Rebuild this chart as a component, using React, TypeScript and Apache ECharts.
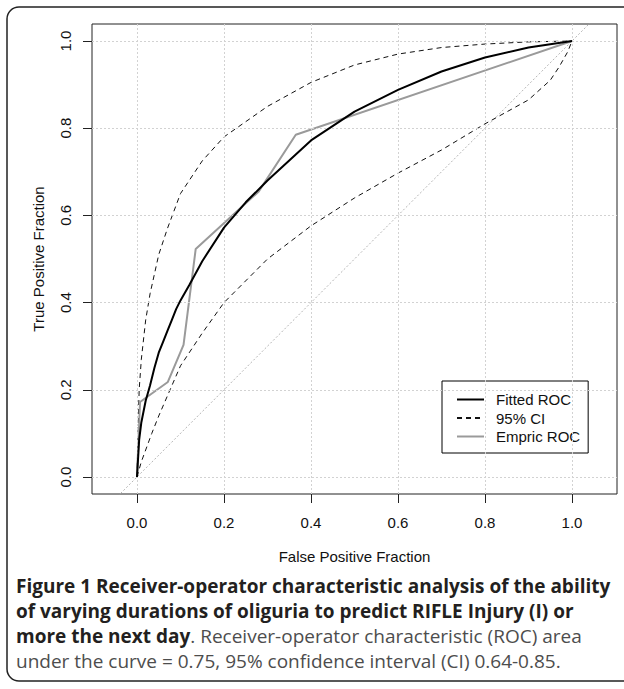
import React, { useEffect, useRef } from "react";
import * as echarts from "echarts";

const tickValues = [0, 0.2, 0.4, 0.6, 0.8, 1.0];
const tickLabels = ["0.0", "0.2", "0.4", "0.6", "0.8", "1.0"];

const fittedFPF = [0, 0.005, 0.01, 0.02, 0.03, 0.04, 0.05, 0.06, 0.07, 0.08, 0.09, 0.1, 0.12, 0.15, 0.2, 0.25, 0.3, 0.4, 0.5, 0.6, 0.7, 0.8, 0.9, 1.0];
const fittedTPF = [0, 0.085, 0.125, 0.175, 0.21, 0.25, 0.285, 0.31, 0.335, 0.36, 0.385, 0.405, 0.44, 0.495, 0.572, 0.63, 0.68, 0.772, 0.838, 0.888, 0.93, 0.962, 0.985, 1.0];

const upperFPF = [0, 0.005, 0.01, 0.02, 0.03, 0.05, 0.07, 0.1, 0.15, 0.2, 0.3, 0.4, 0.5, 0.6, 0.7, 0.8, 0.9, 1.0];
const upperTPF = [0, 0.2, 0.27, 0.36, 0.42, 0.51, 0.57, 0.65, 0.725, 0.78, 0.85, 0.905, 0.945, 0.97, 0.985, 0.993, 0.998, 1.0];

const lowerFPF = [0, 0.01, 0.034, 0.05, 0.076, 0.1, 0.15, 0.2, 0.3, 0.4, 0.5, 0.6, 0.7, 0.8, 0.9, 0.95, 0.97, 0.99, 1.0];
const lowerTPF = [0, 0.035, 0.1, 0.14, 0.2, 0.255, 0.33, 0.4, 0.5, 0.576, 0.64, 0.697, 0.75, 0.81, 0.865, 0.91, 0.94, 0.975, 1.0];

const empiricFPF = [0, 0.007, 0.071, 0.107, 0.135, 0.28, 0.365, 1.0];
const empiricTPF = [0, 0.172, 0.218, 0.303, 0.523, 0.655, 0.785, 1.0];

const diagonal = [-0.2, 1.2];

const legendNames = ["Fitted ROC", "95% CI", "Empric ROC"];

const captionLines = [
  [{ t: "Figure 1 Receiver-operator characteristic analysis of the ability", b: true }],
  [{ t: "of varying durations of oliguria to predict RIFLE Injury (I) or", b: true }],
  [
    { t: "more the next day", b: true },
    { t: ". Receiver-operator characteristic (ROC) area", b: false },
  ],
  [{ t: "under the curve = 0.75, 95% confidence interval (CI) 0.64-0.85.", b: false }],
];

const zip = (xs: number[], ys: number[]) => xs.map((x, i) => [x, ys[i]]);

const AXIS_FONT = "'Liberation Sans', Arial, sans-serif";
const CAP_FONT = "'Open Sans', 'Noto Sans', sans-serif";

export default function App() {
  const ref = useRef<HTMLDivElement>(null);

  useEffect(() => {
    document.body.style.margin = "0";
    if (!ref.current) return;
    const chart = echarts.init(ref.current, null, { renderer: "svg" });

    const captionGraphics = captionLines.map((parts, i) => ({
      type: "text",
      left: 16,
      top: 588 + i * 25 - 12,
      silent: true,
      style: {
        text: parts.map((p) => `{${p.b ? "b" : "r"}|${p.t}}`).join(""),
        rich: {
          b: { fontFamily: CAP_FONT, fontWeight: "bold", fontSize: 19, fill: "#231f20" },
          r: { fontFamily: CAP_FONT, fontWeight: "normal", fontSize: 19, fill: "#4d4d4d" },
        },
      },
    }));

    const fmt = (v: number) =>
      tickLabels[tickValues.findIndex((t) => Math.abs(t - v) < 1e-6)] ?? "";

    const option: any = {
      animation: false,
      backgroundColor: "#ffffff",
      grid: {
        left: 92,
        top: 24,
        width: 525,
        height: 470,
        show: true,
        borderColor: "#222",
        borderWidth: 1,
        backgroundColor: "transparent",
      },
      xAxis: {
        type: "value",
        min: -0.1034,
        max: 1.1034,
        name: "False Positive Fraction",
        nameLocation: "middle",
        nameGap: 55,
        nameTextStyle: { fontFamily: AXIS_FONT, fontSize: 15, color: "#111" },
        axisLine: { show: false, onZero: false },
        splitLine: { show: false },
        axisTick: { show: true, length: 9, lineStyle: { color: "#222" }, customValues: tickValues },
        axisLabel: {
          customValues: tickValues,
          formatter: fmt,
          fontFamily: AXIS_FONT,
          fontSize: 15,
          color: "#111",
          margin: 21,
        },
      },
      yAxis: {
        type: "value",
        min: -0.039,
        max: 1.039,
        name: "True Positive Fraction",
        nameLocation: "middle",
        nameGap: 46,
        nameTextStyle: { fontFamily: AXIS_FONT, fontSize: 15, color: "#111" },
        axisLine: { show: false, onZero: false },
        splitLine: { show: false },
        axisTick: { show: true, length: 9, lineStyle: { color: "#222" }, customValues: tickValues },
        axisLabel: {
          customValues: tickValues,
          formatter: fmt,
          rotate: 90,
          fontFamily: AXIS_FONT,
          fontSize: 15,
          color: "#111",
          margin: 19,
        },
      },
      legend: {
        data: legendNames,
        orient: "vertical",
        left: 442,
        top: 381,
        backgroundColor: "#fff",
        borderColor: "#000",
        borderWidth: 1,
        borderRadius: 0,
        padding: [11, 8, 9, 14],
        itemWidth: 27,
        itemHeight: 14,
        itemGap: 3.5,
        selectedMode: false,
        itemStyle: { opacity: 0 },
        textStyle: { fontFamily: AXIS_FONT, fontSize: 15, color: "#111", padding: [0, 0, 0, 7] },
      },
      graphic: [
        {
          type: "rect",
          silent: true,
          shape: { x: 7, y: 7, width: 632, height: 674, r: 12 },
          style: { fill: "none", stroke: "#222", lineWidth: 1.5 },
          z: 100,
        },
        ...captionGraphics,
      ],
      series: [
        {
          name: "diag",
          type: "line",
          data: zip(diagonal, diagonal),
          symbol: "none",
          clip: true,
          z: 1,
          lineStyle: { color: "#b5b5b5", width: 1, type: [2, 2] },
          markLine: {
            silent: true,
            symbol: ["none", "none"],
            label: { show: false },
            lineStyle: { color: "#d2d2d2", width: 1, type: [2, 2] },
            data: [
              ...tickValues.map((v) => ({ xAxis: v })),
              ...tickValues.map((v) => ({ yAxis: v })),
            ],
          },
        },
        {
          name: "95% CI",
          type: "line",
          data: zip(upperFPF, upperTPF),
          symbol: "none",
          z: 3,
          itemStyle: { color: "#111" },
          lineStyle: { color: "#111", width: 1, type: [5, 4] },
        },
        {
          name: "95% CI",
          type: "line",
          data: zip(lowerFPF, lowerTPF),
          symbol: "none",
          z: 3,
          itemStyle: { color: "#111" },
          lineStyle: { color: "#111", width: 1, type: [5, 4] },
        },
        {
          name: "Empric ROC",
          type: "line",
          data: zip(empiricFPF, empiricTPF),
          symbol: "none",
          z: 4,
          itemStyle: { color: "#9a9a9a" },
          lineStyle: { color: "#9a9a9a", width: 2 },
        },
        {
          name: "Fitted ROC",
          type: "line",
          data: zip(fittedFPF, fittedTPF),
          symbol: "none",
          z: 5,
          itemStyle: { color: "#000" },
          lineStyle: { color: "#000", width: 2 },
        },
      ],
    };

    chart.setOption(option);
    return () => chart.dispose();
  }, []);

  return (
    <div
      ref={ref}
      style={{ position: "absolute", left: 0, top: 0, width: 624, height: 689 }}
    />
  );
}
